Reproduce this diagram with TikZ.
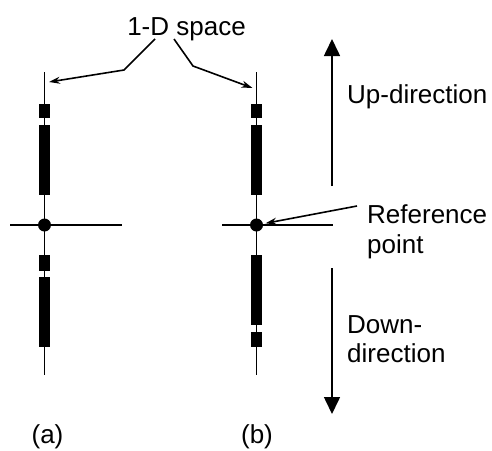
\documentclass[tikz,border=0pt]{standalone}
\usepackage{fontspec}
\setmainfont{Liberation Sans}
\usetikzlibrary{arrows.meta,calc}
\tikzset{
  axisline/.style={line width=1.6pt},
  seg/.style={fill=black},
  lbl/.style={inner sep=0pt, font=\fontsize{26}{30}\selectfont},
  pointer/.style={line width=1.6pt, -{Stealth[length=11pt,width=7pt]}},
  bigarrow/.style={line width=1.6pt, -{Triangle[length=17pt,width=16pt]}},
  refdot/.style={circle, fill=black, inner sep=0pt, minimum size=13pt},
}
\begin{document}
\begin{tikzpicture}[x=1pt,y=-1pt]
\useasboundingbox (0,0) rectangle (492,450);
% ---- (a)
\coordinate (atop) at (44.5,72);
\coordinate (abot) at (44.5,375);
\coordinate (aleft) at (10,225);
\coordinate (aright) at (122,225);
\draw[axisline] (atop) -- (abot);
\draw[axisline] (aleft) -- (aright);
\fill[seg] (39,104) rectangle (50,118);
\fill[seg] (39,125) rectangle (50,195);
\fill[seg] (39,255) rectangle (50,271);
\fill[seg] (39,277) rectangle (50,347);
\node[refdot] (dota) at (44.5,225) {};
% ---- (b)
\coordinate (btop) at (256.5,72);
\coordinate (bbot) at (256.5,375);
\coordinate (bleft) at (222,225);
\coordinate (bright) at (333,225);
\draw[axisline] (btop) -- (bbot);
\draw[axisline] (bleft) -- (bright);
\fill[seg] (251,104) rectangle (262,118);
\fill[seg] (251,125) rectangle (262,195);
\fill[seg] (251,255) rectangle (262,325);
\fill[seg] (251,332) rectangle (262,347);
\node[refdot] (dotb) at (256.5,225) {};
% ---- labels
\node[lbl, anchor=base] (space) at (186.5,35) {1-D space};
\node[lbl, anchor=base west] (up) at (347,103) {Up-direction};
\node[lbl, anchor=base west] (ref) at (367,223) {Reference};
\node[lbl, anchor=base west] (pt) at (367,253) {point};
\node[lbl, anchor=base west] (down) at (347,333) {Down-};
\node[lbl, anchor=base west] (dir) at (347,362) {direction};
\node[lbl, anchor=base] (la) at (47.5,443) {(a)};
\node[lbl, anchor=base] (lb) at (257,443) {(b)};
% ---- 1-D space pointers
\coordinate (sa) at (155,39);
\coordinate (ka) at (124,70);
\coordinate (ta) at (49,82);
\coordinate (sb) at (174,39);
\coordinate (kb) at (193,66);
\coordinate (tb) at (252.5,88);
\draw[pointer] (sa) -- (ka) -- (ta);
\draw[pointer] (sb) -- (kb) -- (tb);
% ---- reference pointer
\coordinate (rs) at (357,206);
\draw[pointer, shorten >=2.5pt] (rs) -- (dotb);
% ---- direction arrows
\coordinate (upfrom) at (332,186);
\coordinate (upto) at (332,39);
\coordinate (dnfrom) at (332,268);
\coordinate (dnto) at (332,414);
\draw[bigarrow] (upfrom) -- (upto);
\draw[bigarrow] (dnfrom) -- (dnto);
\end{tikzpicture}
\end{document}
